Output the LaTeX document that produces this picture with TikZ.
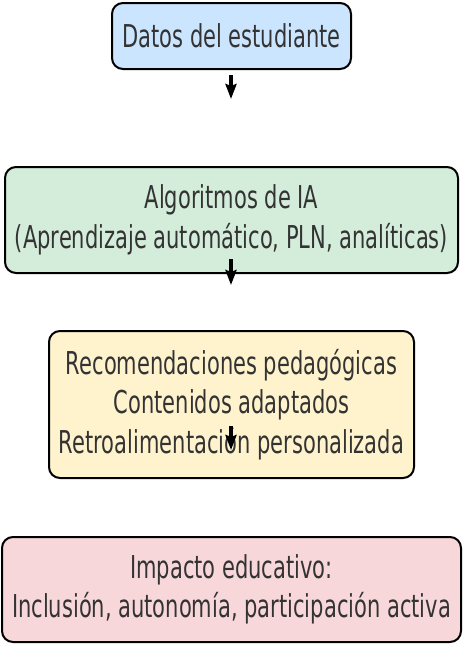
\documentclass[tikz,border=0pt]{standalone}
\usepackage{fontspec}
\usepackage{graphicx}
\setmainfont{DejaVu Sans}
\usetikzlibrary{arrows.meta}
\definecolor{cblue}{HTML}{CCE5FF}
\definecolor{cgreen}{HTML}{D4EDDA}
\definecolor{cyellow}{HTML}{FFF3CD}
\definecolor{cpink}{HTML}{F8D7DA}
\definecolor{ctext}{HTML}{333333}
\newcommand\bodyfont{\fontsize{31.5}{39.5}\selectfont}
\newlength\reflen
\newcommand\sq[1]{\scalebox{\sqf}[1]{#1}}
\AtBeginDocument{%
  \settowidth\reflen{\bodyfont (Aprendizaje automático, PLN, analíticas)}%
  \pgfmathsetmacro\sqf{433/\reflen}%
  \xdef\sqf{\sqf}}
\begin{document}
\begin{tikzpicture}[x=1pt,y=-1pt,
  box/.style={draw=black, line width=2pt, rounded corners=11pt, text=ctext,
    font=\bodyfont, align=center, inner sep=0pt},
  flowarrow/.style={line width=3.5pt, -{Stealth[length=15pt,width=11pt,inset=2pt]}}]
  \useasboundingbox (0,0) rectangle (463,645);
  \node[box, fill=cblue, minimum width=239pt, minimum height=66pt] (datos) at (231.5,36)
    {\sq{Datos del estudiante}};
  \node[box, fill=cgreen, minimum width=453pt, minimum height=106pt] (algo) at (231.5,220)
    {\sq{Algoritmos de IA}\\\sq{(Aprendizaje automático, PLN, analíticas)}};
  \node[box, fill=cyellow, minimum width=365pt, minimum height=147pt] (reco) at (231.5,404.5)
    {\sq{Recomendaciones pedagógicas}\\\sq{Contenidos adaptados}\\\sq{Retroalimentación personalizada}};
  \node[box, fill=cpink, minimum width=459pt, minimum height=105pt] (impacto) at (231.5,589.5)
    {\sq{Impacto educativo:}\\\sq{Inclusión, autonomía, participación activa}};
  \coordinate (a1s) at (231,75);
  \coordinate (a1e) at (231,99);
  \coordinate (a2s) at (231,259);
  \coordinate (a2e) at (231,285);
  \coordinate (a3s) at (231,426);
  \coordinate (a3e) at (231,450);
  \draw[flowarrow] (a1s) -- (a1e);
  \draw[flowarrow] (a2s) -- (a2e);
  \draw[flowarrow] (a3s) -- (a3e);
\end{tikzpicture}
\end{document}
